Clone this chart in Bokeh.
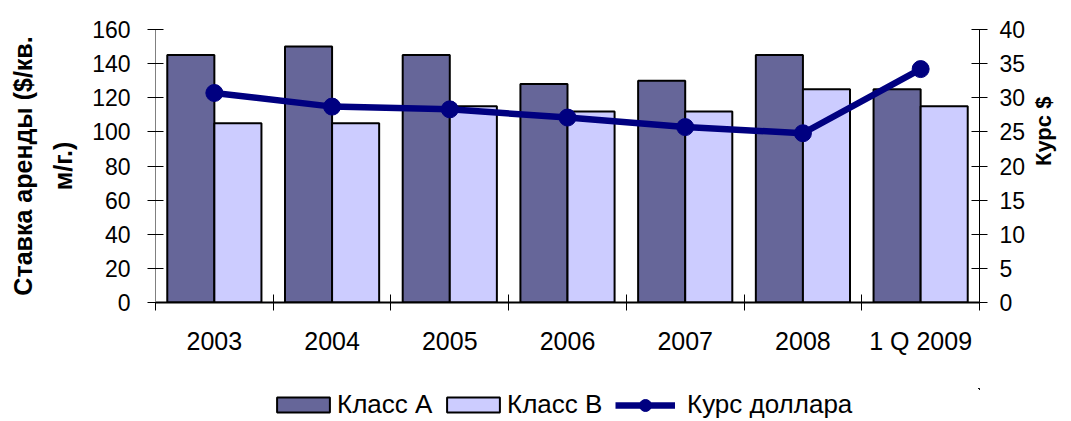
import math
import numpy as np
from bokeh.plotting import figure
from bokeh.layouts import column
from bokeh.models import (Range1d, LinearAxis, FixedTicker, Legend, LegendItem,
                          ColumnDataSource)
from bokeh.embed import file_html
from bokeh.resources import INLINE

categories = ["2003", "2004", "2005", "2006", "2007", "2008", "1 Q 2009"]
class_a = [145, 150, 145, 128, 130, 145, 125]
class_b = [105, 105, 115, 112, 112, 125, 115]
usd_rate = [30.7, 28.7, 28.3, 27.1, 25.7, 24.8, 34.2]

left_ticks = [0, 20, 40, 60, 80, 100, 120, 140, 160]
right_ticks = [0, 5, 10, 15, 20, 25, 30, 35, 40]

FONT = "Liberation Sans"
COL_A = "#666699"
COL_B = "#CCCCFF"
COL_L = "#000080"
n = len(categories)
idx = np.arange(n)

p = figure(width=1071, height=388, output_backend="svg", toolbar_location=None,
           x_range=Range1d(0, n), y_range=Range1d(0, 160),
           min_border_left=155, min_border_right=91, min_border_top=29,
           min_border_bottom=86)
p.outline_line_color = None
p.xgrid.visible = False
p.ygrid.visible = False
p.background_fill_color = "white"
p.border_fill_color = "white"

p.extra_y_ranges = {"usd": Range1d(0, 40)}

src_a = ColumnDataSource(dict(x=idx + 0.3, top=class_a))
src_b = ColumnDataSource(dict(x=idx + 0.7, top=class_b))
src_l = ColumnDataSource(dict(x=idx + 0.5, y=usd_rate))

p.vbar(x="x", top="top", width=0.4, source=src_a, fill_color=COL_A,
       line_color="black", line_width=2)
p.vbar(x="x", top="top", width=0.4, source=src_b, fill_color=COL_B,
       line_color="black", line_width=2)
p.line(x="x", y="y", source=src_l, y_range_name="usd", line_color=COL_L,
       line_width=6.5)
p.scatter(x="x", y="y", source=src_l, y_range_name="usd", size=17,
          fill_color=COL_L, line_color=COL_L)

# x axis
xa = p.xaxis[0]
xa.ticker = FixedTicker(ticks=list(idx + 0.5), minor_ticks=list(range(n + 1)))
xa.major_label_overrides = {float(i + 0.5): c for i, c in enumerate(categories)}
xa.major_tick_in = 0
xa.major_tick_out = 0
xa.minor_tick_in = 8
xa.minor_tick_out = 8
xa.minor_tick_line_color = "black"
xa.axis_line_color = "black"
xa.axis_line_width = 2
xa.major_label_standoff = 16
xa.major_label_text_font = FONT
xa.major_label_text_font_size = "25px"
xa.major_label_text_color = "black"

# left axis
ya = p.yaxis[0]
ya.ticker = FixedTicker(ticks=left_ticks)
ya.major_tick_in = 8
ya.major_tick_out = 8
ya.minor_tick_line_color = None
ya.major_tick_line_color = "black"
ya.axis_line_color = "#808080"
ya.major_label_standoff = 17
ya.major_label_text_font = FONT
ya.major_label_text_font_size = "23px"
ya.major_label_text_color = "black"
ya.axis_label = "Ставка аренды ($/кв.\nм/г.)"
ya.axis_label_text_font = FONT
ya.axis_label_text_font_size = "25px"
ya.axis_label_text_font_style = "bold"
ya.axis_label_text_color = "black"
ya.axis_label_text_line_height = 1.45
ya.axis_label_standoff = 12

# right axis
ry = LinearAxis(y_range_name="usd", ticker=FixedTicker(ticks=right_ticks))
ry.major_tick_in = 8
ry.major_tick_out = 8
ry.minor_tick_line_color = None
ry.major_tick_line_color = "black"
ry.axis_line_color = "black"
ry.major_label_standoff = 12
ry.major_label_text_font = FONT
ry.major_label_text_font_size = "23px"
ry.major_label_text_color = "black"
ry.axis_label = "Курс $"
ry.axis_label_text_font = FONT
ry.axis_label_text_font_size = "22px"
ry.axis_label_text_font_style = "bold"
ry.axis_label_text_color = "black"
ry.axis_label_text_align = "center"
ry.axis_label_text_baseline = "top"
ry.axis_label_standoff = 15
ry.axis_label_orientation = math.pi / 2
p.add_layout(ry, "right")

# legend strip below the chart (its frame is aligned with the chart's frame)
leg = figure(width=1071, height=32, output_backend="svg", toolbar_location=None,
             x_axis_type=None, y_axis_type=None, min_border=0,
             x_range=Range1d(-20, -19), y_range=Range1d(-20, -19))
leg.outline_line_color = None
leg.xgrid.visible = False
leg.ygrid.visible = False

la = leg.vbar(x="x", top="top", width=0.4, source=src_a,
              fill_color=COL_A, line_color="black", line_width=2)
lb = leg.vbar(x="x", top="top", width=0.4, source=src_b,
              fill_color=COL_B, line_color="black", line_width=2)
ll = leg.line(x="x", y="y", source=src_l, line_color=COL_L, line_width=6.5)
ls = leg.scatter(x="x", y="y", source=src_l, size=17,
                 fill_color=COL_L, line_color=COL_L)

common = dict(orientation="horizontal", padding=0, margin=0,
              border_line_color=None, background_fill_alpha=0,
              label_text_font=FONT, label_text_font_size="26px",
              label_text_color="black")
leg_a = Legend(items=[LegendItem(label="Класс А", renderers=[la])],
               location=(115, 0), glyph_width=66, glyph_height=19,
               label_standoff=1, **common)
leg_b = Legend(items=[LegendItem(label="Класс В", renderers=[lb])],
               location=(285, 0), glyph_width=66, glyph_height=19,
               label_standoff=1, **common)
leg_c = Legend(items=[LegendItem(label="Курс доллара", renderers=[ll, ls])],
               location=(460, 0), glyph_width=60, glyph_height=30,
               label_standoff=12, **common)
for lg in (leg_a, leg_b, leg_c):
    leg.add_layout(lg, "center")

open("out.html", "w").write(file_html(column(p, leg), INLINE))
